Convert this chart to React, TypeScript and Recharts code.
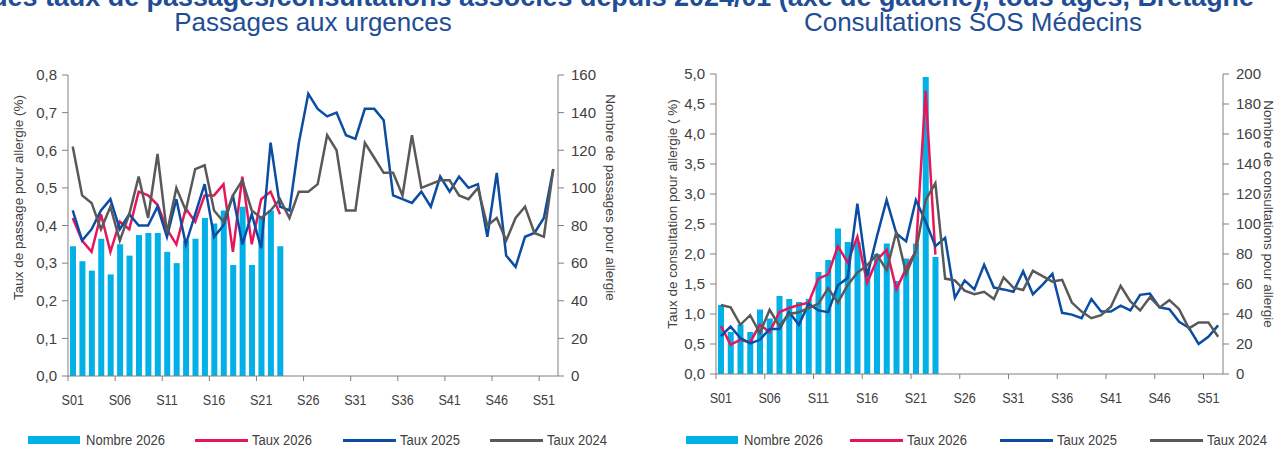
import React from 'react';
import { ComposedChart, Bar, Line, XAxis, YAxis, Legend } from 'recharts';

// ---------- Data ----------
const weeks: string[] = Array.from({ length: 52 }, (_, i) => 'S' + String(i + 1).padStart(2, '0'));
const weekTicks = ['S01', 'S06', 'S11', 'S16', 'S21', 'S26', 'S31', 'S36', 'S41', 'S46', 'S51'];

// Passages aux urgences
const urgNombre2026 = [69, 61, 56, 73, 54, 70, 64, 75, 76, 76, 66, 60, 72, 73, 84, 81, 88, 59, 90, 59, 84, 88, 69];
const urgTaux2026 = [0.42, 0.36, 0.33, 0.43, 0.33, 0.41, 0.39, 0.49, 0.48, 0.455, 0.39, 0.35, 0.445, 0.41, 0.48, 0.48, 0.51, 0.33, 0.53, 0.35, 0.47, 0.49, 0.43];
const urgTaux2025 = [0.44, 0.36, 0.39, 0.44, 0.47, 0.39, 0.43, 0.40, 0.40, 0.45, 0.37, 0.47, 0.35, 0.43, 0.51, 0.37, 0.40, 0.48, 0.35, 0.43, 0.34, 0.62, 0.45, 0.44, 0.62, 0.75, 0.71, 0.69, 0.70, 0.64, 0.63, 0.71, 0.71, 0.68, 0.48, 0.47, 0.46, 0.49, 0.45, 0.53, 0.49, 0.53, 0.50, 0.51, 0.37, 0.54, 0.32, 0.29, 0.37, 0.38, 0.42, 0.55];
const urgTaux2024 = [0.61, 0.48, 0.46, 0.39, 0.45, 0.36, 0.43, 0.53, 0.42, 0.59, 0.38, 0.50, 0.44, 0.55, 0.56, 0.44, 0.41, 0.48, 0.52, 0.44, 0.42, 0.44, 0.47, 0.42, 0.49, 0.49, 0.51, 0.64, 0.60, 0.44, 0.44, 0.62, 0.58, 0.54, 0.54, 0.48, 0.64, 0.50, 0.51, 0.52, 0.52, 0.48, 0.47, 0.50, 0.40, 0.42, 0.36, 0.42, 0.45, 0.38, 0.37, 0.55];

// Consultations SOS Médecins
const sosNombre2026 = [46, 28, 33, 28, 43, 37, 52, 50, 48, 50, 68, 76, 97, 88, 88, 70, 80, 87, 62, 77, 87, 198, 78];
const sosTaux2026 = [0.80, 0.49, 0.57, 0.53, 0.82, 0.70, 1.03, 1.10, 1.15, 1.19, 1.59, 1.66, 2.13, 1.86, 2.29, 1.52, 1.90, 2.07, 1.41, 1.76, 2.05, 4.72, 1.99];
const sosTaux2025 = [0.63, 0.79, 0.60, 0.51, 0.57, 0.75, 0.75, 1.03, 0.82, 1.17, 1.06, 1.03, 1.48, 1.60, 2.84, 1.63, 2.29, 2.90, 2.34, 2.21, 2.90, 2.54, 2.13, 2.27, 1.27, 1.56, 1.41, 1.82, 1.44, 1.41, 1.37, 1.71, 1.33, 1.49, 1.67, 1.02, 0.99, 0.93, 1.25, 1.04, 1.04, 1.14, 1.06, 1.32, 1.34, 1.11, 1.08, 0.87, 0.77, 0.50, 0.62, 0.81];
const sosTaux2024 = [1.15, 1.11, 0.82, 0.98, 0.68, 1.07, 0.80, 1.00, 1.03, 1.10, 1.17, 1.43, 1.19, 1.48, 1.69, 1.81, 1.99, 1.73, 2.37, 1.67, 2.05, 2.90, 3.18, 1.59, 1.56, 1.39, 1.33, 1.37, 1.25, 1.61, 1.44, 1.40, 1.72, 1.63, 1.54, 1.57, 1.19, 1.04, 0.93, 0.98, 1.12, 1.47, 1.21, 1.06, 1.28, 1.11, 1.23, 1.08, 0.76, 0.86, 0.86, 0.62];

const urgLeftTicks = [0, 0.1, 0.2, 0.3, 0.4, 0.5, 0.6, 0.7, 0.8];
const urgRightTicks = [0, 20, 40, 60, 80, 100, 120, 140, 160];
const sosLeftTicks = [0, 0.5, 1, 1.5, 2, 2.5, 3, 3.5, 4, 4.5, 5];
const sosRightTicks = [0, 20, 40, 60, 80, 100, 120, 140, 160, 180, 200];

const seriesNames = ['Nombre 2026', 'Taux 2026', 'Taux 2025', 'Taux 2024'];

function buildRows(nombre: number[], t26: number[], t25: number[], t24: number[]) {
  return weeks.map((w, i) => ({
    week: w,
    nombre: i < nombre.length ? nombre[i] : null,
    t26: i < t26.length ? t26[i] : null,
    t25: t25[i] ?? null,
    t24: t24[i] ?? null,
  }));
}

const urgRows = buildRows(urgNombre2026, urgTaux2026, urgTaux2025, urgTaux2024);
const sosRows = buildRows(sosNombre2026, sosTaux2026, sosTaux2025, sosTaux2024);

// ---------- Style ----------
const FONT = "'Liberation Sans', Arial, sans-serif";
const TXT = '#404040';
const AXIS = '#808080';
const C_BAR = '#00B0E6';
const C_RED = '#E5175A';
const C_BLUE = '#0B4DA2';
const C_GRAY = '#595959';
const TITLE = '#1F4E96';
const NARROW = 0.84;

const fmt1 = (v: number) => v.toFixed(1).replace('.', ',');

function makeXTick(band: number) {
  return (props: any) => {
    const { x, y, payload } = props;
    return (
      <g>
        <line x1={x - band / 2} y1={y} x2={x - band / 2} y2={y + 5} stroke={AXIS} strokeWidth={1} />
        <text
          transform={`translate(${x}, ${y + 29}) scale(${NARROW}, 1)`}
          x={0}
          y={0}
          textAnchor="middle"
          fill={TXT}
          fontSize={15}
          fontFamily={FONT}
        >
          {payload.value}
        </text>
      </g>
    );
  };
}

function LegendText({ left, children }: { left: number; children: React.ReactNode }) {
  return (
    <span
      style={{
        position: 'absolute',
        left,
        top: 0,
        whiteSpace: 'nowrap',
        display: 'inline-block',
        transform: `scaleX(${NARROW})`,
        transformOrigin: 'left center',
      }}
    >
      {children}
    </span>
  );
}

function makeLegend(pos: number[]) {
  return () => (
    <div style={{ position: 'relative', height: 20, width: 641, fontFamily: FONT, fontSize: 15.5, lineHeight: '20px', color: TXT }}>
      <div style={{ position: 'absolute', left: pos[0], top: 6, width: 52, height: 8, background: C_BAR }} />
      <LegendText left={pos[0] + 58}>{seriesNames[0]}</LegendText>
      <div style={{ position: 'absolute', left: pos[1], top: 9, width: 53, height: 3, background: C_RED }} />
      <LegendText left={pos[1] + 57}>{seriesNames[1]}</LegendText>
      <div style={{ position: 'absolute', left: pos[2], top: 9, width: 53, height: 3, background: C_BLUE }} />
      <LegendText left={pos[2] + 57}>{seriesNames[2]}</LegendText>
      <div style={{ position: 'absolute', left: pos[3], top: 9, width: 53, height: 3, background: C_GRAY }} />
      <LegendText left={pos[3] + 57}>{seriesNames[3]}</LegendText>
    </div>
  );
}

function vLabel(text: string, dx: number, dyShift: number, angle: number) {
  return (props: any) => {
    const vb = props.viewBox;
    const cx = vb.x + dx;
    const cy = vb.y + vb.height / 2 + dyShift;
    return (
      <text
        x={cx}
        y={cy}
        transform={`rotate(${angle}, ${cx}, ${cy})`}
        textAnchor="middle"
        dominantBaseline="central"
        fill={TXT}
        fontSize={13.5}
        fontFamily={FONT}
      >
        {text}
      </text>
    );
  };
}

type PanelProps = {
  rows: any[];
  leftDomain: [number, number];
  leftTicks: number[];
  rightDomain: [number, number];
  rightTicks: number[];
  leftWidth: number;
  rightWidth: number;
  top: number;
  xHeight: number;
  band: number;
  leftLabel: string;
  rightLabel: string;
  leftLabelDx: number;
  rightLabelDx: number;
  labelShift: number;
  legendPos: number[];
};

function Panel(p: PanelProps) {
  return (
    <ComposedChart
      width={641}
      height={450}
      data={p.rows}
      margin={{ top: p.top, right: 0, bottom: 0, left: 0 }}
    >
      <XAxis
        dataKey="week"
        ticks={weekTicks}
        interval={0}
        height={p.xHeight}
        tickLine={false}
        tickSize={0}
        tickMargin={0}
        axisLine={{ stroke: AXIS }}
        tick={makeXTick(p.band)}
      />
      <YAxis
        yAxisId="left"
        orientation="left"
        domain={p.leftDomain}
        ticks={p.leftTicks}
        interval={0}
        tickFormatter={fmt1}
        width={p.leftWidth}
        axisLine={{ stroke: AXIS }}
        tickLine={{ stroke: AXIS }}
        tickSize={6}
        tickMargin={5}
        tick={{ fill: TXT, fontSize: 15, fontFamily: FONT }}
        label={{ content: vLabel(p.leftLabel, p.leftLabelDx, p.labelShift, -90) } as any}
      />
      <YAxis
        yAxisId="right"
        orientation="right"
        domain={p.rightDomain}
        ticks={p.rightTicks}
        interval={0}
        width={p.rightWidth}
        axisLine={{ stroke: AXIS }}
        tickLine={{ stroke: AXIS }}
        tickSize={6}
        tickMargin={7}
        tick={{ fill: TXT, fontSize: 15, fontFamily: FONT }}
        label={{ content: vLabel(p.rightLabel, p.rightLabelDx, p.labelShift, 90) } as any}
      />
      <Legend verticalAlign="bottom" align="left" content={makeLegend(p.legendPos)} />
      <Bar yAxisId="right" dataKey="nombre" name={seriesNames[0]} fill={C_BAR} barSize={6} isAnimationActive={false} />
      <Line yAxisId="left" type="linear" dataKey="t26" name={seriesNames[1]} stroke={C_RED} strokeWidth={2.5} dot={false} isAnimationActive={false} />
      <Line yAxisId="left" type="linear" dataKey="t25" name={seriesNames[2]} stroke={C_BLUE} strokeWidth={2.5} dot={false} isAnimationActive={false} />
      <Line yAxisId="left" type="linear" dataKey="t24" name={seriesNames[3]} stroke={C_GRAY} strokeWidth={2.5} dot={false} isAnimationActive={false} />
    </ComposedChart>
  );
}

export default function App() {
  return (
    <div style={{ position: 'absolute', left: 0, top: 0, width: 1282, height: 450, overflow: 'hidden', background: '#fff' }}>
      <div
        style={{
          position: 'absolute',
          right: 28,
          top: -17,
          whiteSpace: 'nowrap',
          fontFamily: FONT,
          fontWeight: 'bold',
          fontSize: 26.9,
          lineHeight: '28px',
          color: TITLE,
        }}
      >
        Nombre hebdomadaire de passages/consultations pour allergie (axe de droite) et des taux de passages/consultations associés depuis 2024/01 (axe de gauche), tous âges, Bretagne
      </div>
      <div style={{ position: 'absolute', left: 0, top: 9, width: 626, textAlign: 'center', fontFamily: FONT, fontSize: 26, lineHeight: '26px', color: TITLE }}>
        Passages aux urgences
      </div>
      <div style={{ position: 'absolute', left: 641, top: 9, width: 664, textAlign: 'center', fontFamily: FONT, fontSize: 26, lineHeight: '26px', color: TITLE }}>
        Consultations SOS Médecins
      </div>
      <div style={{ position: 'absolute', left: 0, top: 0 }}>
        <Panel
          rows={urgRows}
          leftDomain={[0, 0.8]}
          leftTicks={urgLeftTicks}
          rightDomain={[0, 160]}
          rightTicks={urgRightTicks}
          leftWidth={68}
          rightWidth={83}
          top={75}
          xHeight={54}
          band={490 / 52}
          leftLabel="Taux de passage pour allergie (%)"
          rightLabel="Nombre de passages pour allergie"
          leftLabelDx={18}
          rightLabelDx={52}
          labelShift={-28}
          legendPos={[28, 195, 343, 490]}
        />
      </div>
      <div style={{ position: 'absolute', left: 641, top: 0 }}>
        <Panel
          rows={sosRows}
          leftDomain={[0, 5]}
          leftTicks={sosLeftTicks}
          rightDomain={[0, 200]}
          rightTicks={sosRightTicks}
          leftWidth={75}
          rightWidth={59}
          top={74}
          xHeight={56}
          band={507 / 52}
          leftLabel="Taux de consultation pour allergie ( %)"
          rightLabel="Nombre de consultations pour allergie"
          leftLabelDx={31}
          rightLabelDx={45}
          labelShift={-10}
          legendPos={[45, 209, 359, 509]}
        />
      </div>
    </div>
  );
}
